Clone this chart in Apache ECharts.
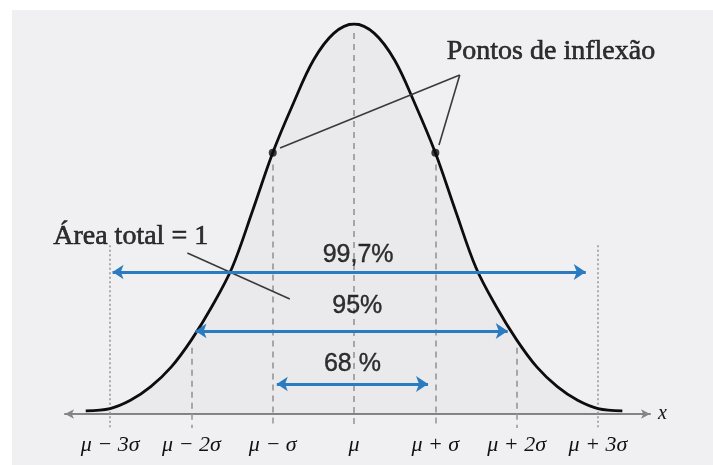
<!DOCTYPE html>
<html>
<head>
<meta charset="utf-8">
<style>
  html, body { margin: 0; padding: 0; background: #ffffff; }
  #chart { width: 713px; height: 465px; }
</style>
<script src="https://cdn.jsdelivr.net/npm/echarts@6/dist/echarts.min.js"></script>
</head>
<body>
<div id="chart"></div>
<script>
// Normal curve, heights relative to the peak, x in units of sigma from the mean
const curveX = [-3.3, -3, -2.75, -2.5, -2.25, -2, -1.75, -1.5, -1.25, -1, -0.75, -0.5, -0.25, 0,
                0.25, 0.5, 0.75, 1, 1.25, 1.5, 1.75, 2, 2.25, 2.5, 2.75, 3, 3.3];
const curveY = [0.008, 0.014, 0.035, 0.07, 0.12, 0.19, 0.275, 0.375, 0.52, 0.67, 0.795, 0.907, 0.976, 1,
                0.976, 0.907, 0.795, 0.67, 0.52, 0.375, 0.275, 0.19, 0.12, 0.07, 0.035, 0.014, 0.008];

// Axis tick positions and their labels
const tickValues = [-3, -2, -1, 0, 1, 2, 3];
const tickLabels = ['μ − 3σ', 'μ − 2σ', 'μ − σ', 'μ', 'μ + σ', 'μ + 2σ', 'μ + 3σ'];

// Inflection points
const inflectionX = [-1, 1];
const inflectionY = [0.67, 0.67];

// Dashed guides at μ, ±σ, ±2σ: x and height where each starts
const guideX = [-2, -1, 0, 1, 2];
const guideTop = [0.17, 0.64, 0.977, 0.64, 0.17];
// Dotted guides at ±3σ
const dottedX = [-3, 3];
const dottedTop = [0.433, 0.433];
const guideBottom = -0.036;

// Coverage arrows: label, left end, right end, height
const rangeLabels = ['99,7%', '95%', '68 %'];
const rangeFrom = [-2.97, -1.95, -0.95];
const rangeTo = [2.85, 1.89, 0.91];
const rangeY = [0.364, 0.213, 0.077];
const rangeLabelX = [0.05, 0.04, -0.02];
const rangeLabelY = [0.408, 0.277, 0.128];

// Annotation texts and their leader lines
const areaText = 'Área total = 1';
const areaTextPos = [-3.7, 0.456];
const areaLeader = [[-2.05, 0.413], [-0.79, 0.295]];
const inflText = 'Pontos de inflexão';
const inflTextPos = [1.14, 0.928];
const inflApex = [1.30, 0.869];
const inflEnds = [[-0.91, 0.682], [1.045, 0.69]];

const blue = '#2b7bc0';

const curveData = curveX.map((x, i) => [x, curveY[i]]);

const guideLines = guideX.map((x, i) => ({ coords: [[x, guideTop[i]], [x, guideBottom]] }));
const dottedLines = dottedX.map((x, i) => ({ coords: [[x, dottedTop[i]], [x, guideBottom]] }));
const arrowLines = rangeFrom.map((x, i) => ({ coords: [[x, rangeY[i]], [rangeTo[i], rangeY[i]]] }));
const leaderLines = [
  { coords: areaLeader },
  { coords: [inflApex, inflEnds[0]] },
  { coords: [inflApex, inflEnds[1]] }
];

const chart = echarts.init(document.getElementById('chart'), null, { renderer: 'canvas' });

chart.setOption({
  backgroundColor: '#ffffff',
  animation: false,
  graphic: [{
    type: 'rect', z: -10, silent: true,
    shape: { x: 12, y: 10, width: 713, height: 470 },
    style: { fill: '#f0f0f2' }
  }],
  grid: { left: 65, right: 63, top: 24, bottom: 51 },
  xAxis: {
    type: 'value',
    min: -3.555,
    max: 3.64,
    name: 'x',
    nameLocation: 'end',
    nameGap: 8,
    nameTextStyle: { fontFamily: 'Liberation Serif', fontStyle: 'italic', fontSize: 20, color: '#111', padding: [0, 0, 6, 0] },
    axisLine: {
      show: true, onZero: false,
      symbol: ['arrow', 'arrow'], symbolSize: [7, 9],
      lineStyle: { color: '#858585', width: 2 }
    },
    axisTick: { show: false },
    splitLine: { show: false },
    axisLabel: {
      customValues: tickValues,
      margin: 20,
      fontFamily: 'Liberation Serif',
      fontStyle: 'italic',
      fontSize: 22,
      color: '#111',
      formatter: v => {
        const i = tickValues.indexOf(Math.round(v));
        return i >= 0 ? tickLabels[i] : '';
      }
    }
  },
  yAxis: { type: 'value', min: 0, max: 1, show: false },
  series: [
    {
      type: 'lines', coordinateSystem: 'cartesian2d', clip: false, silent: true, z: 1,
      lineStyle: { color: '#9a9a9a', width: 1.6, type: [6, 5], opacity: 1 },
      data: guideLines
    },
    {
      type: 'lines', coordinateSystem: 'cartesian2d', clip: false, silent: true, z: 1,
      lineStyle: { color: '#9a9a9a', width: 1.6, type: [2, 2.5], opacity: 1 },
      data: dottedLines
    },
    {
      type: 'line', data: curveData, smooth: 0.35, showSymbol: false, z: 3,
      lineStyle: { color: '#0d0d0d', width: 2.8 },
      areaStyle: { color: 'rgba(0,0,0,0.035)', origin: 'start' }
    },
    {
      type: 'scatter', z: 6, symbolSize: 8, itemStyle: { color: '#0d0d0d' },
      data: inflectionX.map((x, i) => [x, inflectionY[i]])
    },
    {
      type: 'lines', coordinateSystem: 'cartesian2d', clip: false, silent: true, z: 5,
      lineStyle: { color: '#3a3a3a', width: 1.6, opacity: 1 },
      data: leaderLines
    },
    {
      type: 'lines', coordinateSystem: 'cartesian2d', clip: false, silent: true, z: 5,
      symbol: ['arrow', 'arrow'], symbolSize: [11, 12],
      lineStyle: { color: blue, width: 3, opacity: 1 },
      data: arrowLines
    },
    {
      type: 'scatter', symbolSize: 0, clip: false, silent: true, z: 7,
      data: rangeLabels.map((t, i) => ({ value: [rangeLabelX[i], rangeLabelY[i]], name: t })),
      label: {
        show: true, position: 'inside', formatter: p => p.name,
        fontFamily: 'Liberation Sans', fontSize: 25, color: '#000',
        textBorderColor: '#000', textBorderWidth: 0.4
      }
    },
    {
      type: 'scatter', symbolSize: 0, clip: false, silent: true, z: 7,
      data: [
        { value: areaTextPos, name: areaText },
        { value: inflTextPos, name: inflText }
      ],
      label: {
        show: true, position: 'right', distance: 0, formatter: p => p.name,
        fontFamily: 'Liberation Serif', fontSize: 28, color: '#000',
        textBorderColor: '#000', textBorderWidth: 0.6
      }
    }
  ]
});
</script>
</body>
</html>
